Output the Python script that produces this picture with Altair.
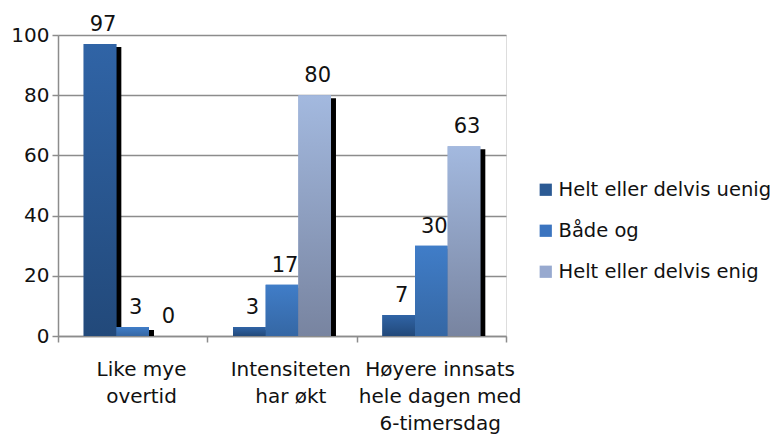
import json
import altair as alt
import pandas as pd

# ---- data ----
categories = [["Like mye", "overtid"],
              ["Intensiteten", "har økt"],
              ["Høyere innsats", "hele dagen med", "6-timersdag"]]
series = ["Helt eller delvis uenig", "Både og", "Helt eller delvis enig"]
uenig = [97, 3, 7]
baade_og = [3, 17, 30]
enig = [0, 80, 63]
y_ticks = [0, 20, 40, 60, 80, 100]

# ---- build table (positions derived from category / series index) ----
series_vals = [uenig, baade_og, enig]
group_pad = 0.172
bar_w = (1 - 2 * group_pad) / len(series)
rows = []
for i, cat in enumerate(categories):
    for j, s in enumerate(series):
        x0 = i + group_pad + j * bar_w
        rows.append({"cat": " ".join(cat), "series": s, "order": j,
                     "value": series_vals[j][i],
                     "x0": x0, "x1": x0 + bar_w, "xc": x0 + bar_w / 2})
df = pd.DataFrame(rows)

FONT = "DejaVu Sans"
colors = ["#2b5a94", "#3b74bf", "#97a9cf"]
gradients = [
    [("#3064a6", 0), ("#22497a", 1)],
    [("#407dc8", 0), ("#3567a4", 1)],
    [("#a3b9df", 0), ("#7884a0", 1)],
]


def grad(stops):
    return {"gradient": "linear", "x1": 0, "y1": 0, "x2": 0, "y2": 1,
            "stops": [{"color": c, "offset": o} for c, o in stops]}


n = len(categories)
label_expr = f"datum.value < {n} ? {json.dumps(categories, ensure_ascii=False)}[datum.value] : ''"

x_enc = alt.X("x0:Q",
              scale=alt.Scale(domain=[0, n], nice=False, zero=False),
              axis=alt.Axis(values=list(range(n + 1)), labelExpr=label_expr,
                            labelOffset=83, labelFlush=False, labelOverlap=False,
                            labelBound=False, grid=False, title=None,
                            tickSize=6, tickColor="#8c8c8c", tickWidth=1.5,
                            domainColor="#8c8c8c", domainWidth=1.5,
                            labelFont=FONT, labelFontSize=20, labelColor="#111111",
                            labelLineHeight=27, labelPadding=17,
                            labelAlign="center", labelBaseline="top"))
y_enc = alt.Y("value:Q",
              scale=alt.Scale(domain=[0, 100], nice=False),
              axis=alt.Axis(values=y_ticks, grid=True, gridColor="#8c8c8c",
                            gridWidth=1.5, domainColor="#8c8c8c", domainWidth=1.5,
                            tickColor="#8c8c8c", tickWidth=1.5, tickSize=6,
                            labelFont=FONT, labelFontSize=20, labelColor="#111111",
                            labelPadding=3, title=None))

base = alt.Chart(df)

shadow = base.transform_filter("datum.value > 0").mark_bar(
    color="#000000", xOffset=5, x2Offset=5, yOffset=3
).encode(x=x_enc, x2="x1:Q", y=y_enc, y2=alt.datum(0))

legend_bars = base.mark_bar().encode(
    x=x_enc, x2="x1:Q", y=y_enc, y2=alt.datum(0),
    color=alt.Color("series:N",
                    scale=alt.Scale(domain=series, range=colors),
                    legend=alt.Legend(orient="none", legendX=478, legendY=145,
                                      title=None, symbolType="square",
                                      symbolSize=150, symbolStrokeWidth=0,
                                      labelFont=FONT, labelFontSize=19.5,
                                      labelColor="#111111", labelOffset=3,
                                      labelLimit=0, rowPadding=20))
)

fill_cond = {"condition": [{"test": f"datum.series === '{series[k]}'",
                            "value": grad(gradients[k])} for k in range(2)],
             "value": grad(gradients[2])}
grad_bars = base.mark_bar().encode(
    x=x_enc, x2="x1:Q", y=y_enc, y2=alt.datum(0), fill=fill_cond
)

labels = base.mark_text(dy=-13, dx=3, baseline="alphabetic", font=FONT,
                        fontSize=21, color="#111111").encode(
    x=alt.X("xc:Q", scale=alt.Scale(domain=[0, n], nice=False, zero=False)),
    y=alt.Y("value:Q"),
    text=alt.Text("value:Q")
)

chart = alt.layer(shadow, legend_bars, grad_bars, labels).properties(
    width=448, height=301,
    autosize=alt.AutoSizeParams(type="none"),
    padding={"left": 50, "top": 27, "right": 268, "bottom": 100},
).configure_view(stroke=None).configure(background="#ffffff")

chart.save("out.html", embed_options={"renderer": "svg", "actions": False})
